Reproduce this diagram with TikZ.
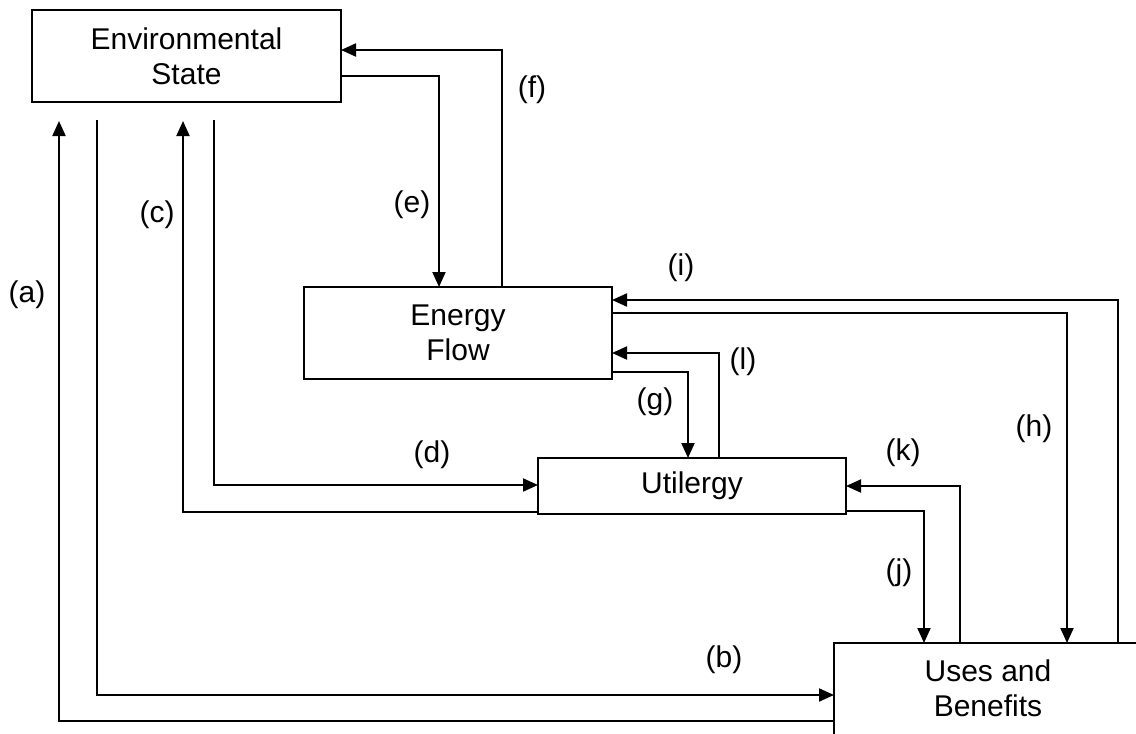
\documentclass[tikz,border=0pt]{standalone}
\usepackage{fontspec}
\setmainfont{Liberation Sans}
\usetikzlibrary{arrows.meta}

\begin{document}
\begin{tikzpicture}[x=1pt,y=-1pt,
  every node/.style={font=\fontsize{30}{35}\selectfont},
  box/.style={draw, line width=2pt, rectangle, anchor=north west,
    inner sep=0pt, outer sep=0pt, align=center},
  lbl/.style={inner sep=0pt},
  flow/.style={line width=2pt, -{Triangle[length=15pt,width=13pt]}},
  link/.style={line width=2pt}]

\useasboundingbox (0,0) rectangle (1136,734);
\clip (0,0) rectangle (1136,734);

% boxes
\node[box, minimum width=309pt, minimum height=92pt] (es) at (32,10) {Environmental\\State};
\node[box, minimum width=308pt, minimum height=92pt] (ef) at (304,287) {Energy\\Flow};
\node[box, minimum width=308pt, minimum height=56pt] (ut) at (538,458) {Utilergy};
\node[box, minimum width=340pt, minimum height=130pt] (ub) at (834,643) {};
\node[lbl, align=center] (ubt) at (988,688) {Uses and\\Benefits};

% corner coordinates of the connectors
\coordinate (aT) at (59,121);
\coordinate (bT) at (97,120);
\coordinate (cT) at (183,121);
\coordinate (dT) at (214,120);
\coordinate (ya) at (0,721);
\coordinate (yb) at (0,695);
\coordinate (yc) at (0,512);
\coordinate (yd) at (0,485);
\coordinate (ye) at (0,76);
\coordinate (yf) at (0,50);
\coordinate (yg) at (0,372);
\coordinate (yl) at (0,353);
\coordinate (yh) at (0,313);
\coordinate (yi) at (0,300);
\coordinate (yj) at (0,511);
\coordinate (yk) at (0,486);
\coordinate (xe) at (439,0);
\coordinate (xf) at (502,0);
\coordinate (xg) at (688,0);
\coordinate (xl) at (719,0);
\coordinate (xh) at (1067,0);
\coordinate (xi) at (1118,0);
\coordinate (xj) at (924,0);
\coordinate (xk) at (960,0);

% connectors
\draw[flow] (ub.west |- ya) -| (aT);
\draw[flow] (bT) |- (ub.west |- yb);
\draw[flow] (ut.west |- yc) -| (cT);
\draw[flow] (dT) |- (ut.west |- yd);
\draw[flow] (es.east |- ye) -| (xe |- ef.north);
\draw[flow] (xf |- ef.north) |- (es.east |- yf);
\draw[flow] (ef.east |- yg) -| (xg |- ut.north);
\draw[flow] (xl |- ut.north) |- (ef.east |- yl);
\draw[flow] (ef.east |- yh) -| (xh |- ub.north);
\draw[flow] (xi |- ub.north) |- (ef.east |- yi);
\draw[flow] (ut.east |- yj) -| (xj |- ub.north);
\draw[flow] (xk |- ub.north) |- (ut.east |- yk);

% connector labels
\node[lbl] (la) at (27,295) {(a)};
\node[lbl] (lb) at (724,660) {(b)};
\node[lbl] (lc) at (157,215) {(c)};
\node[lbl] (ld) at (432,455) {(d)};
\node[lbl] (le) at (412,205) {(e)};
\node[lbl] (lf) at (532,90) {(f)};
\node[lbl] (lg) at (655,402) {(g)};
\node[lbl] (lh) at (1034,429) {(h)};
\node[lbl] (li) at (681,268) {(i)};
\node[lbl] (lj) at (899,573) {(j)};
\node[lbl] (lk) at (903,453) {(k)};
\node[lbl] (ll) at (743,362) {(l)};
\end{tikzpicture}
\end{document}
